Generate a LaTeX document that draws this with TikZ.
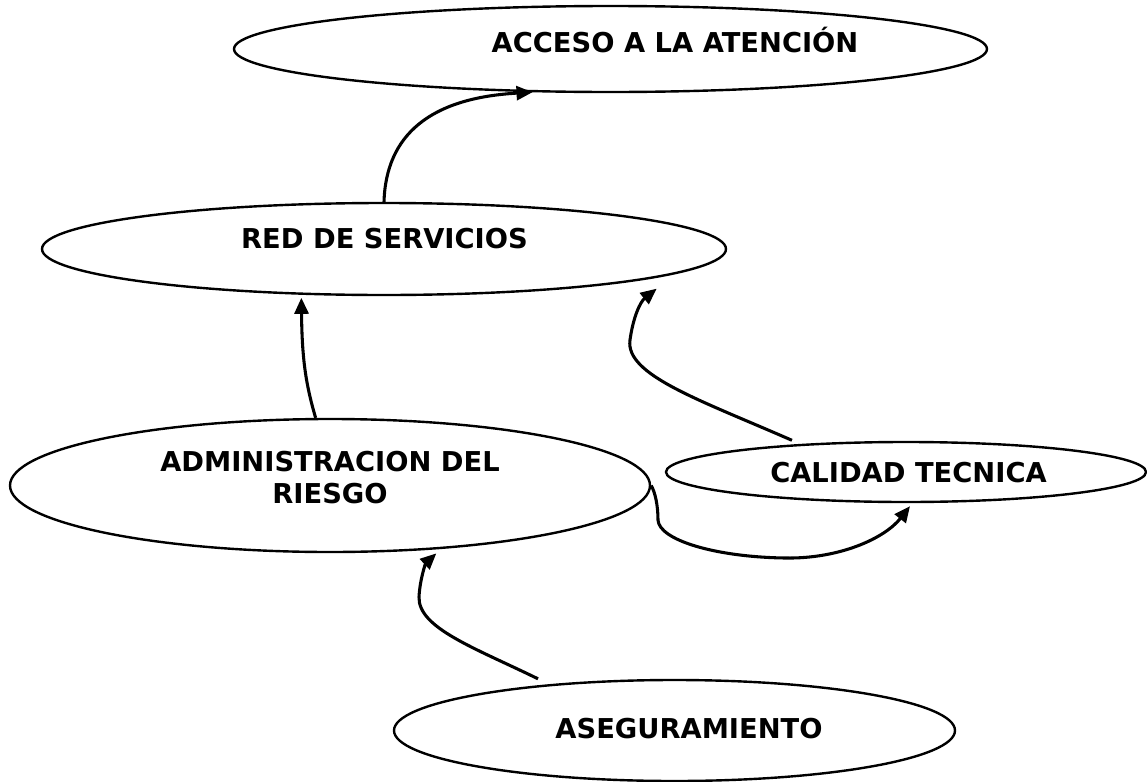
\documentclass[tikz,border=0pt]{standalone}
\usepackage{fontspec}
\setmainfont{DejaVu Sans}
\usetikzlibrary{shapes.geometric,arrows.meta,calc}
\begin{document}
\begin{tikzpicture}[x=0.75pt,y=-0.75pt,
  bubble/.style={ellipse,draw,line width=1.8pt,inner sep=0pt},
  lbl/.style={font=\fontsize{20.5}{24}\selectfont\bfseries,inner sep=0pt},
  conn/.style={line width=2.3pt,-{Triangle[length=12pt,width=10.5pt]}}]
\fill[white] (0,0) rectangle (1147,782);
\useasboundingbox (0,0) rectangle (1147,782);
% ellipses
\node[bubble,minimum width=564.75pt,minimum height=64.5pt] (acc) at (610.5,49) {};
\node[bubble,minimum width=513pt,minimum height=69pt] (red) at (384,249) {};
\node[bubble,minimum width=480pt,minimum height=99.75pt] (adm) at (330,485.5) {};
\node[bubble,minimum width=360pt,minimum height=45pt] (cal) at (906,472) {};
\node[bubble,minimum width=420.75pt,minimum height=75.75pt] (ase) at (674.5,730.5) {};
% labels
\node[lbl,anchor=base] (tacc) at (675,52) {ACCESO A LA ATENCIÓN};
\node[lbl,anchor=base] (tred) at (384.5,248) {RED DE SERVICIOS};
\node[lbl,align=center] (tadm) at (330,477.5) {ADMINISTRACION DEL\\RIESGO};
\node[lbl,anchor=base] (tcal) at (908.5,482) {CALIDAD TECNICA};
\node[lbl,anchor=base] (tase) at (689,738) {ASEGURAMIENTO};
% connectors
\draw[conn] (red.north) .. controls (386,135) and (430,98) .. (acc.209);
\draw[conn] (adm.102) .. controls (306,385) and (302,360) .. ($(red.209)+(0,3)$);
\draw[conn] ($(cal.166)+(-3,-4)$) .. controls (700,400) and (625,375) .. (630,340) .. controls (633,318) and (640,302) .. ($(red.-6)+(0,11)$);
\draw[conn] (adm.east) .. controls (655,492) and (658,505) .. (658,520) .. controls (659,540) and (715,557) .. (785,558) .. controls (840,559) and (885,538) .. ($(cal.south)+(4,3)$);
\draw[conn] ($(ase.north)+(-136.5,0)$) .. controls (475,648) and (418,628) .. (419,597) .. controls (420,578) and (426,563) .. ($(adm.-31)+(0,4)$);
\end{tikzpicture}
\end{document}
